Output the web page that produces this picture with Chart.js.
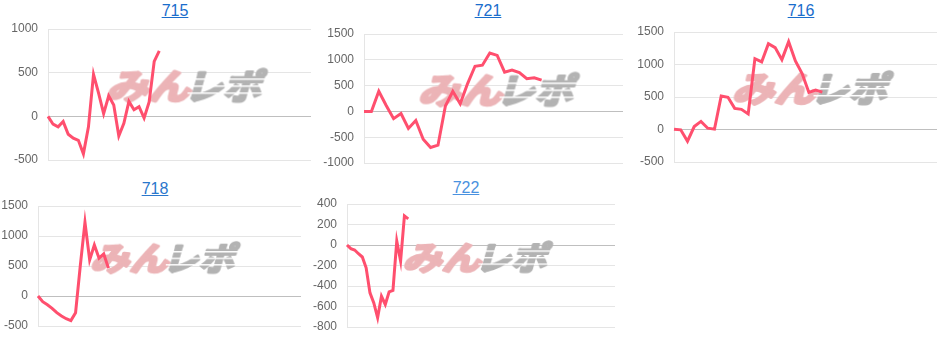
<!DOCTYPE html>
<html lang="ja">
<head>
<meta charset="UTF-8">
<title>差枚グラフ</title>
<script src="https://cdn.jsdelivr.net/npm/chart.js"></script>
<style>
  body { margin: 0; background: #fff; width: 945px; height: 337px; overflow: hidden; position: relative;
         font-family: 'Liberation Sans', Arial, sans-serif; }
  .box { position: absolute; }
  .ttl { position: absolute; width: 100px; text-align: center; font-size: 16px; line-height: 16px; }
</style>
</head>
<body>
<script>
  // 台番号ごとの差枚推移
  const names = ['715', '721', '716', '718', '722'];
  const slotCounts = [53, 36, 40, 57, 71];

  const diff715 = [0, -90, -120, -60, -205, -250, -275, -430, -120, 480, 265, 30, 235, 130, -225, -80, 170, 75, 110, -20, 165, 630, 750];
  const diff721 = [0, 0, 390, 115, -140, -40, -330, -175, -540, -700, -655, 105, 390, 150, 540, 875, 895, 1130, 1085, 760, 800, 750, 635, 650, 605];
  const diff716 = [5, -5, -180, 45, 125, 20, 5, 515, 495, 325, 310, 240, 1090, 1040, 1320, 1260, 1075, 1350, 1055, 860, 570, 605, 575];
  const diff718 = [0, -95, -145, -205, -278, -333, -378, -410, -278, 500, 1230, 600, 850, 630, 700, 465];
  const diff722 = [0, -36, -49, -85, -117, -222, -467, -565, -710, -500, -580, -457, -444, 39, -157, 284, 255];
  const series = [diff715, diff721, diff716, diff718, diff722];

  const yMin = [-500, -1000, -500, -500, -800];
  const yMax = [1000, 1500, 1500, 1500, 400];
  const yStep = [500, 500, 500, 500, 200];

  // 配置 (グラフ領域の位置)
  const boxes = [
    { l: 48,  t: 29,  r: 311, b: 160, tx: 175, ty: 3,   link: '#1a6dcc', logoDx: 12, logoS: 1.0 },
    { l: 364, t: 34,  r: 623, b: 163, tx: 488, ty: 3,   link: '#1a6dcc', logoDx: 10, logoS: 1.0 },
    { l: 674, t: 32,  r: 937, b: 162, tx: 801, ty: 3,   link: '#1a6dcc', logoDx: 12, logoS: 1.0 },
    { l: 38,  t: 206, r: 301, b: 326, tx: 155, ty: 181, link: '#2a77cc', logoDx: 0,  logoS: 0.93 },
    { l: 347, t: 204, r: 615, b: 327, tx: 466, ty: 180, link: '#4a92e0', logoDx: 1,  logoS: 0.93 }
  ];
  const axisW = 44, padT = 10, padB = 10;

  Chart.defaults.font.family = "'Liberation Sans', Arial, sans-serif";
  Chart.defaults.font.size = 12;
  Chart.defaults.color = '#666';

  // ロゴ透かし
  function makeLogo() {
    const c = document.createElement('canvas');
    c.width = 176; c.height = 40;
    const g = c.getContext('2d');
    g.font = "bold 35px 'Noto Sans CJK JP'";
    g.textBaseline = 'middle';
    g.lineJoin = 'round';
    g.lineWidth = 3;
    g.setTransform(1.2, 0, -0.28, 1, 12, 0);
    g.fillStyle = g.strokeStyle = '#ecb4b7';
    g.fillText('みん', 0, 21);
    g.strokeText('みん', 0, 21);
    g.setTransform(1.1, 0, -0.28, 1, 90, 0);
    g.fillStyle = g.strokeStyle = '#b3b3b3';
    g.fillText('レポ', 0, 21);
    g.strokeText('レポ', 0, 21);
    g.setTransform(1, 0, 0, 1, 0, 0);
    g.globalCompositeOperation = 'destination-out';
    [13, 20, 27].forEach(y => g.fillRect(84, y, 92, 1.5));
    return c;
  }
  const logo = makeLogo();

  const watermark = {
    id: 'watermark',
    beforeDatasetsDraw(chart, args, opts) {
      const a = chart.chartArea;
      const w = logo.width * opts.scale, h = logo.height * opts.scale;
      const cx = (a.left + a.right) / 2 + opts.dx;
      const cy = a.top + (a.bottom - a.top) * 0.43;
      chart.ctx.drawImage(logo, cx - w / 2, cy - h / 2, w, h);
    }
  };

  boxes.forEach((bx, i) => {
    const ttl = document.createElement('div');
    ttl.className = 'ttl';
    ttl.style.left = (bx.tx - 50) + 'px';
    ttl.style.top = bx.ty + 'px';
    ttl.innerHTML = '<a href="#" style="color:' + bx.link + '">' + names[i] + '</a>';
    document.body.appendChild(ttl);

    const div = document.createElement('div');
    div.className = 'box';
    div.style.left = (bx.l - axisW) + 'px';
    div.style.top = (bx.t - padT) + 'px';
    div.style.width = (bx.r - bx.l + axisW) + 'px';
    div.style.height = (bx.b - bx.t + padT + padB) + 'px';
    const cv = document.createElement('canvas');
    div.appendChild(cv);
    document.body.appendChild(div);

    const labels = Array.from({ length: slotCounts[i] }, (_, k) => String(k + 1));

    new Chart(cv, {
      type: 'line',
      data: {
        labels: labels,
        datasets: [{
          data: series[i],
          borderColor: '#ff4f6e',
          borderWidth: 3,
          pointRadius: 0,
          fill: false,
          tension: 0
        }]
      },
      options: {
        responsive: true,
        maintainAspectRatio: false,
        animation: false,
        layout: { padding: { top: padT, bottom: padB, left: 0, right: 0 } },
        plugins: {
          legend: { display: false },
          tooltip: { enabled: false },
          watermark: { dx: bx.logoDx, scale: bx.logoS }
        },
        scales: {
          x: { display: false },
          y: {
            min: yMin[i],
            max: yMax[i],
            afterFit: function(scale) {
              scale.width = axisW;
              scale.paddingTop = 0;
              scale.paddingBottom = 0;
            },
            grid: {
              drawTicks: false,
              color: function(ctx) {
                return ctx.tick && ctx.tick.value === 0 ? 'rgba(0,0,0,0.25)' : 'rgba(0,0,0,0.1)';
              }
            },
            border: { display: true, color: 'rgba(0,0,0,0.1)' },
            ticks: {
              stepSize: yStep[i],
              padding: 10,
              color: '#666',
              callback: function(value) { return String(value); }
            }
          }
        }
      },
      plugins: [watermark]
    });
  });
</script>
</body>
</html>
